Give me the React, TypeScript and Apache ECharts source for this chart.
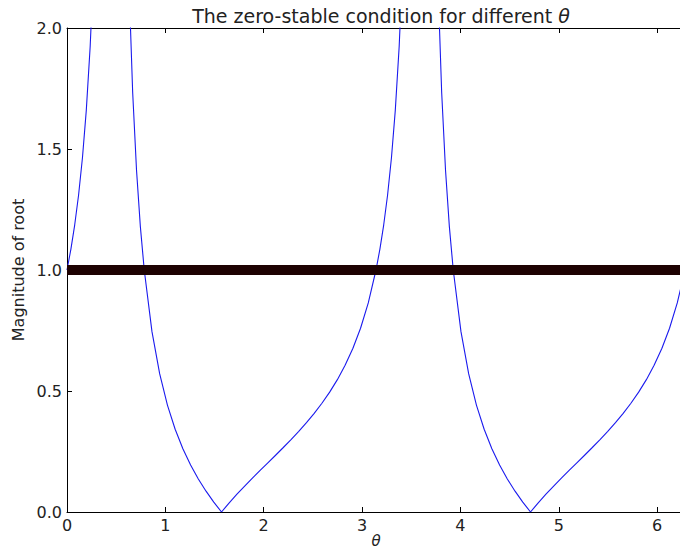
import React, { useEffect, useRef } from 'react';
import * as echarts from 'echarts';

// theta (radians) sampled along the curve
const thetaValues = [
  0, 0.0393, 0.0785, 0.1178, 0.1571, 0.1963, 0.2356, 0.2749, 0.3142, 0.3927, 0.4712, 0.5498, 0.589, 0.6283,
  0.6676, 0.7069, 0.7461, 0.7854, 0.8639, 0.9425, 1.021, 1.0996, 1.1781, 1.2566, 1.3352, 1.4137, 1.4923,
  1.5708, 1.6493, 1.7279, 1.8064, 1.885, 1.9635, 2.042, 2.1206, 2.1991, 2.2777, 2.3562, 2.4347, 2.5133,
  2.5918, 2.6704, 2.7489, 2.8274, 2.906, 2.9845, 3.0631, 3.1416,
  3.1809, 3.2201, 3.2594, 3.2987, 3.3379, 3.3772, 3.4165, 3.4558, 3.5343, 3.6128, 3.6914, 3.7306, 3.7699,
  3.8092, 3.8485, 3.8877, 3.927, 4.0055, 4.0841, 4.1626, 4.2412, 4.3197, 4.3982, 4.4768, 4.5553, 4.6339,
  4.7124, 4.7909, 4.8695, 4.948, 5.0265, 5.1051, 5.1836, 5.2622, 5.3407, 5.4193, 5.4978, 5.5763, 5.6549,
  5.7334, 5.8119, 5.8905, 5.969, 6.0476, 6.1261, 6.2046, 6.2832,
];

// magnitude of root
const magnitudeValues = [
  1, 1.0853, 1.1868, 1.3101, 1.4636, 1.6606, 1.9237, 2.294, 2.856, 5.83, 52.5, 4.43, 2.973, 2.207,
  1.7344, 1.4121, 1.1782, 1, 0.7453, 0.5705, 0.4418, 0.3419, 0.2612, 0.194, 0.1364, 0.086, 0.041,
  0, 0.0379, 0.0734, 0.1072, 0.1398, 0.1716, 0.203, 0.2345, 0.2665, 0.2992, 0.3333, 0.3693, 0.4076,
  0.4493, 0.4953, 0.5469, 0.6061, 0.6756, 0.7594, 0.864, 1,
  1.0853, 1.1868, 1.3101, 1.4636, 1.6606, 1.9237, 2.294, 2.856, 5.83, 52.5, 4.43, 2.973, 2.207,
  1.7344, 1.4121, 1.1782, 1, 0.7453, 0.5705, 0.4418, 0.3419, 0.2612, 0.194, 0.1364, 0.086, 0.041,
  0, 0.0379, 0.0734, 0.1072, 0.1398, 0.1716, 0.203, 0.2345, 0.2665, 0.2992, 0.3333, 0.3693, 0.4076,
  0.4493, 0.4953, 0.5469, 0.6061, 0.6756, 0.7594, 0.864, 1,
];

const stableLevel = 1;
const xRange = [0, 6.2832];
const yRange = [0, 2];

const FONT = 'DejaVu Sans';

export default function App() {
  const ref = useRef<HTMLDivElement>(null);
  useEffect(() => {
    if (!ref.current) return;
    document.documentElement.style.overflow = 'hidden';
    document.body.style.margin = '0';
    document.body.style.overflow = 'hidden';
    const chart = echarts.init(ref.current, undefined, { renderer: 'svg' });
    const axisCommon = {
      type: 'value' as const,
      splitLine: { show: false },
      axisLine: { show: true, onZero: false, lineStyle: { color: '#000', width: 1 } },
      axisTick: { show: true, inside: true, length: 5, lineStyle: { color: '#000', width: 1 } },
    };
    chart.setOption({
      animation: false,
      backgroundColor: '#fff',
      title: {
        text: 'The zero-stable condition for different {i|θ}',
        left: 376,
        top: 1,
        textAlign: 'center',
        textStyle: {
          fontFamily: FONT,
          fontSize: 19,
          fontWeight: 'normal',
          color: '#222',
          rich: { i: { fontFamily: FONT, fontStyle: 'italic', fontSize: 19, color: '#222' } },
        },
      },
      grid: {
        left: 67,
        top: 28,
        width: 618,
        height: 484,
        containLabel: false,
        outerBoundsMode: 'none',
      },
      xAxis: [
        {
          ...axisCommon,
          position: 'bottom',
          min: xRange[0],
          max: xRange[1],
          interval: 1,
          axisLabel: {
            showMaxLabel: false,
            formatter: (v: number) => String(Math.round(v)),
            fontFamily: FONT,
            fontSize: 16,
            color: '#222',
            margin: 5,
          },
          name: 'θ',
          nameLocation: 'middle',
          nameGap: 21,
          nameMoveOverlap: false,
          nameTextStyle: {
            fontFamily: FONT,
            fontStyle: 'italic',
            fontSize: 15,
            color: '#222',
            lineHeight: 15,
          },
        },
        {
          ...axisCommon,
          position: 'top',
          min: xRange[0],
          max: xRange[1],
          interval: 1,
          axisLabel: { show: false },
        },
      ],
      yAxis: [
        {
          ...axisCommon,
          position: 'left',
          min: yRange[0],
          max: yRange[1],
          interval: 0.5,
          axisLabel: {
            formatter: (v: number) => v.toFixed(1),
            fontFamily: FONT,
            fontSize: 16,
            color: '#222',
            margin: 5,
          },
          name: 'Magnitude of root',
          nameLocation: 'middle',
          nameGap: 41,
          nameMoveOverlap: false,
          nameTextStyle: { fontFamily: FONT, fontSize: 16, color: '#222' },
        },
      ],
      series: [
        {
          type: 'line',
          data: thetaValues.map((t, i) => [t, magnitudeValues[i]]),
          showSymbol: false,
          symbol: 'none',
          clip: true,
          lineStyle: { color: '#1a1aee', width: 1.1 },
          xAxisIndex: 0,
          yAxisIndex: 0,
        },
        {
          type: 'line',
          data: [
            [xRange[0], stableLevel],
            [xRange[1], stableLevel],
          ],
          showSymbol: false,
          symbol: 'none',
          clip: true,
          lineStyle: { color: '#1e0202', width: 10 },
          xAxisIndex: 0,
          yAxisIndex: 0,
        },
      ],
    });
    return () => chart.dispose();
  }, []);
  return (
    <div
      ref={ref}
      style={{
        position: 'fixed',
        left: 0,
        top: 0,
        width: 680,
        height: 549,
        overflow: 'hidden',
        background: '#fff',
      }}
    />
  );
}
